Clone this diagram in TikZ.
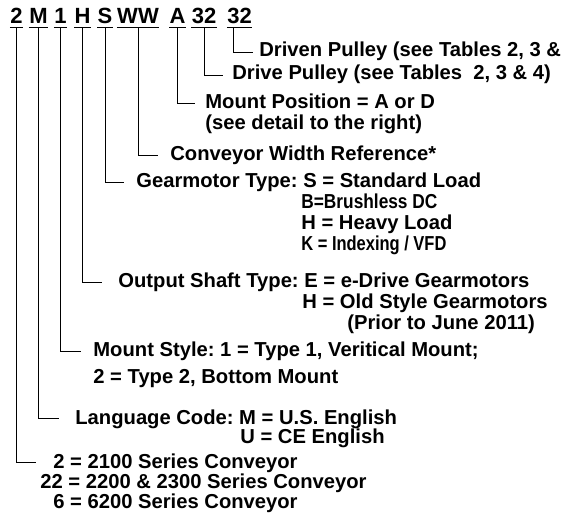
\documentclass[tikz,border=0pt]{standalone}
\usepackage{fontspec}
\setmainfont{Liberation Sans}
\usepackage{graphicx}
\usepackage{tikz}
\usetikzlibrary{positioning}
\frenchspacing
\newcommand{\narrowto}[2]{\resizebox{#1}{\height}{#2}}

\begin{document}
\begin{tikzpicture}[
  x=1pt, y=-1pt,
  code/.style={anchor=base, inner sep=0pt, font=\bfseries\fontsize{22}{25}\selectfont},
  lbl/.style={anchor=base west, inner sep=0pt, font=\bfseries\fontsize{20.2}{22}\selectfont},
  every path/.style={line width=0.8pt}
]
\path[fill=white, use as bounding box] (0,0) rectangle (561,516);
% model code
\node[code] (c2)   at (16.5,24) {2};
\node[code] (cM)   at (38.5,24) {M};
\node[code] (c1)   at (60.5,24) {1};
\node[code] (cH)   at (82.5,24) {H};
\node[code] (cS)   at (105,24)  {S};
\node[code] (cWW)  at (138,24)  {WW};
\node[code] (cA)   at (177.5,24) {A};
\node[code] (cdrv) at (204,24)  {32};
\node[code] (cdrn) at (239.5,24) {32};
\foreach \c in {c2,cM,c1,cH,cS,cWW,cA,cdrv,cdrn}
  \draw ([yshift=-3pt]\c.south west) -- ([yshift=-3pt]\c.south east);
% descriptions
\node[lbl] (drvn)  at (259,57)  {Driven Pulley (see Tables 2, 3 \&};
\node[lbl] (drv)   at (232,80)  {Drive Pulley (see Tables~ 2, 3 \& 4)};
\node[lbl] (mpos)  at (205,108) {Mount Position = A or D};
\node[lbl] (mposb) at (205,129) {(see detail to the right)};
\node[lbl] (cwr)   at (170,160) {Conveyor Width Reference*};
\node[lbl] (gear)  at (136,187) {Gearmotor Type: S = Standard Load};
\node[lbl] (gearb) at (301,208) {\narrowto{136pt}{B=Brushless DC}};
\node[lbl] (gearh) at (301,229) {H = Heavy Load};
\node[lbl] (geark) at (301,250) {\narrowto{145pt}{K = Indexing / VFD}};
\node[lbl] (osh)   at (118,287) {Output Shaft Type: E = e-Drive Gearmotors};
\node[lbl] (oshb)  at (302,308) {H = Old Style Gearmotors};
\node[lbl] (oshc)  at (347,329) {(Prior to June 2011)};
\node[lbl] (mst)   at (93,356)  {Mount Style: 1 = Type 1, Veritical Mount;};
\node[lbl] (mstb)  at (93,383)  {2 = Type 2, Bottom Mount};
\node[lbl] (lang)  at (75,424)  {Language Code: M = U.S. English};
\node[lbl] (langb) at (240,443) {U = CE English};
\node[lbl] (ser)   at (53,468)  {2 = 2100 Series Conveyor};
\node[lbl] (serb)  at (40,488.5) {22 = 2200 \& 2300 Series Conveyor};
\node[lbl] (serc)  at (53,508)  {6 = 6200 Series Conveyor};
% leaders
\draw ([xshift=-6.5pt,yshift=-3pt]cdrn.south) |- ([xshift=-6pt,yshift=2pt]drvn.mid west);
\draw ([yshift=-3pt]cdrv.south) |- ([xshift=-9pt,yshift=2pt]drv.mid west);
\draw ([yshift=-3pt]cA.south)   |- ([xshift=-10pt,yshift=2pt]mpos.mid west);
\draw ([yshift=-3pt]cWW.south)  |- ([xshift=-12pt,yshift=2pt]cwr.mid west);
\draw ([yshift=-3pt]cS.south)   |- ([xshift=-12pt,yshift=2pt]gear.mid west);
\draw ([yshift=-3pt]cH.south)   |- ([xshift=-16pt,yshift=2pt]osh.mid west);
\draw ([yshift=-3pt]c1.south)   |- ([xshift=-12pt,yshift=2pt]mst.mid west);
\draw ([yshift=-3pt]cM.south)   |- ([xshift=-16pt,yshift=3pt]lang.mid west);
\draw ([yshift=-3pt]c2.south)   |- ([xshift=-17pt,yshift=3pt]ser.mid west);
\end{tikzpicture}
\end{document}
